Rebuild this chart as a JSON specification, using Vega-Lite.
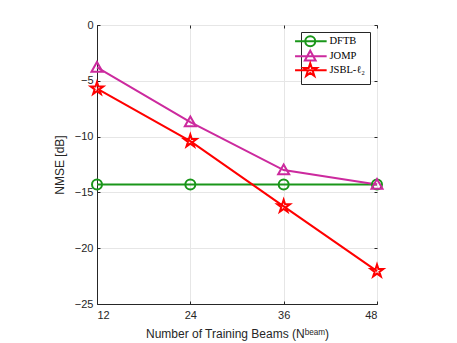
{
  "$schema": "https://vega.github.io/schema/vega-lite/v6.json",
  "autosize": "none",
  "padding": {"left": 97, "top": 25, "right": 80, "bottom": 39},
  "width": 280,
  "height": 279,
  "background": "white",
  "config": {
    "view": {"stroke": "#262626", "strokeWidth": 1},
    "axis": {
      "labelFont": "Liberation Sans",
      "titleFont": "Liberation Sans",
      "labelFontSize": 11,
      "titleFontSize": 12,
      "titleFontWeight": "normal",
      "labelColor": "#262626",
      "titleColor": "#262626",
      "domainColor": "#262626",
      "tickColor": "#262626",
      "gridColor": "#e6e6e6",
      "tickSize": -3
    }
  },
  "data": {
    "values": [
      {"beams": 12, "series": "DFTB", "nmse": -14.3},
      {"beams": 24, "series": "DFTB", "nmse": -14.3},
      {"beams": 36, "series": "DFTB", "nmse": -14.3},
      {"beams": 48, "series": "DFTB", "nmse": -14.3},
      {"beams": 12, "series": "JOMP", "nmse": -3.8},
      {"beams": 24, "series": "JOMP", "nmse": -8.7},
      {"beams": 36, "series": "JOMP", "nmse": -13.0},
      {"beams": 48, "series": "JOMP", "nmse": -14.3},
      {"beams": 12, "series": "JSBL-ℓ₂", "nmse": -5.7},
      {"beams": 24, "series": "JSBL-ℓ₂", "nmse": -10.4},
      {"beams": 36, "series": "JSBL-ℓ₂", "nmse": -16.25},
      {"beams": 48, "series": "JSBL-ℓ₂", "nmse": -22.05}
    ]
  },
  "encoding": {
    "color": {
      "field": "series", "type": "nominal",
      "scale": {"domain": ["DFTB", "JOMP", "JSBL-ℓ₂"], "range": ["#1a961a", "#cc2a9e", "#ff0000"]},
      "legend": null
    }
  },
  "resolve": {"axis": {"x": "independent", "y": "independent"}},
  "layer": [
    {
      "mark": {"type": "line", "strokeWidth": 2},
      "encoding": {
        "x": {
          "field": "beams", "type": "quantitative",
          "scale": {"domain": [12, 48], "nice": false, "zero": false},
          "axis": {"values": [12, 24, 36, 48], "title": "Number of Training Beams (Nᵇᵉᵃᵐ)", "labelPadding": 8, "titlePadding": 8}
        },
        "y": {
          "field": "nmse", "type": "quantitative",
          "scale": {"domain": [-25, 0], "nice": false},
          "axis": {"values": [-25, -20, -15, -10, -5, 0], "title": "NMSE [dB]", "labelPadding": 7, "titlePadding": 8}
        },
        "color": {
          "field": "series", "type": "nominal",
          "legend": {
            "title": null,
            "orient": "none",
            "legendX": 204,
            "legendY": 7,
            "fillColor": "white",
            "strokeColor": "#262626",
            "padding": 4,
            "labelFont": "Liberation Serif",
            "labelFontSize": 10.5,
            "labelColor": "#000000",
            "symbolSize": 64,
            "symbolOffset": 0,
            "labelOffset": 14,
            "rowPadding": -8,
            "symbolStrokeWidth": 2,
            "encode": {
              "symbols": {
                "update": {
                  "shape": {"signal": "datum.value == 'DFTB' ? 'M-3.8,0L4.1,0M1.25,0A1.25,1.25 0 1,1 -1.25,0A1.25,1.25 0 1,1 1.25,0Z' : datum.value == 'JOMP' ? 'M-3.8,0L4.1,0M0,-1.4L1.35,1.05L-1.35,1.05Z' : 'M-3.8,0L4.1,0M0,-1.75L0.39,-0.55L1.66,-0.55L0.63,0.21L1.02,1.42L0,0.67L-1.02,1.42L-0.63,0.21L-1.66,-0.55L-0.39,-0.55Z'"},
                  "fill": {"value": "transparent"},
                  "strokeWidth": {"value": 2}
                }
              }
            }
          }
        }
      }
    },
    {
      "transform": [{"filter": "datum.series == 'DFTB'"}],
      "mark": {"type": "point", "filled": false, "strokeWidth": 2, "opacity": 1, "shape": "circle", "size": 100},
      "encoding": {
        "x": {"field": "beams", "type": "quantitative", "axis": {"orient": "top", "values": [12, 24, 36, 48], "labels": false, "title": null, "grid": false, "domain": false}},
        "y": {"field": "nmse", "type": "quantitative", "axis": {"orient": "right", "values": [-25, -20, -15, -10, -5, 0], "labels": false, "title": null, "grid": false, "domain": false}}
      }
    },
    {
      "transform": [{"filter": "datum.series == 'JOMP'"}],
      "mark": {"type": "point", "filled": false, "strokeWidth": 2, "opacity": 1, "shape": "M0,-1.1L1.1,0.85L-1.1,0.85Z", "size": 100},
      "encoding": {
        "x": {"field": "beams", "type": "quantitative", "axis": null},
        "y": {"field": "nmse", "type": "quantitative", "axis": null}
      }
    },
    {
      "transform": [{"filter": "datum.series == 'JSBL-ℓ₂'"}],
      "mark": {"type": "point", "filled": false, "strokeWidth": 2, "opacity": 1, "shape": "M0,-1.25L0.28,-0.39L1.19,-0.39L0.45,0.15L0.73,1.01L0,0.48L-0.73,1.01L-0.45,0.15L-1.19,-0.39L-0.28,-0.39Z", "size": 110},
      "encoding": {
        "x": {"field": "beams", "type": "quantitative", "axis": null},
        "y": {"field": "nmse", "type": "quantitative", "axis": null}
      }
    }
  ]
}
